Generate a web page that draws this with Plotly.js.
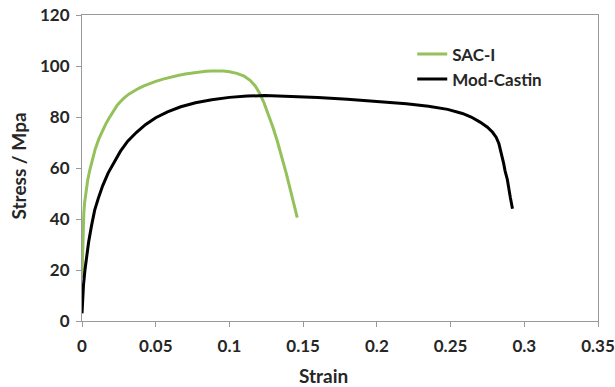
<!DOCTYPE html>
<html>
<head>
<meta charset="utf-8">
<script src="https://cdn.plot.ly/plotly-3.0.1.min.js"></script>
<style>
  html, body { margin: 0; padding: 0; background: #fff; }
  #chart { width: 615px; height: 387px; }
</style>
</head>
<body>
<div id="chart"></div>
<script>
// Tensile stress-strain curves for two solder alloys
const sacStrain = [0, 0.0003, 0.0007, 0.0012, 0.0018, 0.0027, 0.0038, 0.0052, 0.007, 0.009, 0.0115,
  0.013, 0.0145, 0.016, 0.018, 0.02, 0.022, 0.0237, 0.0255, 0.0272, 0.029, 0.032, 0.035, 0.0385,
  0.042, 0.046, 0.05, 0.055, 0.06, 0.065, 0.07, 0.075, 0.08, 0.084, 0.088, 0.092, 0.096,
  0.1, 0.105, 0.11, 0.114, 0.1175, 0.1205, 0.1235, 0.1265, 0.1295, 0.1325, 0.1355, 0.1385,
  0.1415, 0.1445, 0.146];
const sacStress = [17, 27, 36, 42, 46.5, 51, 55, 59, 63.5, 67.5, 71.5,
  73.5, 75.4, 77.1, 79.2, 81.2, 83.05, 84.45, 85.7, 86.75, 87.7, 89.05, 90.15, 91.25,
  92.2, 93.15, 93.95, 94.85, 95.65, 96.3, 96.85, 97.3, 97.65, 97.9, 98.05, 98.1, 98.0,
  97.75, 97.1, 96, 94.4, 92.2, 89.3, 85.5, 81, 76, 70.5, 64.5, 58,
  51, 44, 40.5];

const castinStrain = [0, 0.0005, 0.001, 0.002, 0.003, 0.0045, 0.0065, 0.0086, 0.011, 0.014, 0.0177,
  0.022, 0.026, 0.031, 0.037, 0.043, 0.05, 0.058, 0.067, 0.077, 0.088, 0.1, 0.112, 0.124,
  0.14, 0.16, 0.18, 0.2, 0.22, 0.235, 0.248, 0.258, 0.264, 0.27, 0.275, 0.2785, 0.281,
  0.2828, 0.284, 0.285, 0.286, 0.287, 0.2885, 0.2905, 0.292];
const castinStress = [3, 9, 14, 20, 25, 31, 37.5, 43.5, 48, 53, 58,
  62.5, 66.5, 70.5, 74, 77, 79.7, 82, 84, 85.6, 86.8, 87.7, 88.2, 88.4,
  88.1, 87.6, 87, 86.2, 85.2, 84.2, 83, 81.4, 80, 78, 76, 74, 72,
  69.5, 67, 64.5, 61.8, 58.8, 55.5, 48.5, 44];

const seriesNames = ['SAC-I', 'Mod-Castin'];
const xTicks = [0, 0.05, 0.1, 0.15, 0.2, 0.25, 0.3, 0.35];
const xTickText = ['0', '0.05', '0.1', '0.15', '0.2', '0.25', '0.3', '0.35'];
const yTicks = [0, 20, 40, 60, 80, 100, 120];

const FONT = 'Lato, "Open Sans", sans-serif';
const AXIS_GREY = '#9a9a9a';
const TEXT = '#262626';

const traces = [
  {
    x: sacStrain, y: sacStress, name: seriesNames[0], type: 'scatter', mode: 'lines',
    line: { color: '#94c159', width: 3, shape: 'linear' }
  },
  {
    x: castinStrain, y: castinStress, name: seriesNames[1], type: 'scatter', mode: 'lines',
    line: { color: '#000000', width: 3, shape: 'linear' }
  }
];

const layout = {
  width: 615, height: 387,
  margin: { l: 82, r: 17, t: 15, b: 66 },
  paper_bgcolor: '#ffffff', plot_bgcolor: '#ffffff',
  font: { family: FONT, size: 17, color: TEXT, weight: 'bold' },
  showlegend: true,
  legend: {
    x: 0.64, y: 0.93, xanchor: 'left', yanchor: 'top',
    bgcolor: 'rgba(0,0,0,0)', borderwidth: 0,
    font: { family: FONT, size: 17, color: TEXT, weight: 'bold' },
    itemwidth: 30, tracegroupgap: 0
  },
  xaxis: {
    range: [0, 0.35], tickvals: xTicks, ticktext: xTickText,
    showgrid: false, zeroline: false,
    showline: true, linecolor: AXIS_GREY, linewidth: 1, mirror: true,
    ticks: 'outside', ticklen: 5, tickcolor: AXIS_GREY, tickwidth: 1,
    ticklabelstandoff: 5,
    tickfont: { family: FONT, size: 17, color: TEXT, weight: 'bold' },
    fixedrange: true
  },
  yaxis: {
    range: [0, 120], tickvals: yTicks,
    showgrid: false, zeroline: false,
    showline: true, linecolor: AXIS_GREY, linewidth: 1, mirror: true,
    ticks: 'outside', ticklen: 5, tickcolor: AXIS_GREY, tickwidth: 1,
    ticklabelstandoff: 3,
    tickfont: { family: FONT, size: 17, color: TEXT, weight: 'bold' },
    fixedrange: true
  },
  annotations: [
    {
      text: 'Strain', xref: 'paper', yref: 'paper',
      x: (323.5 - 82) / 516, y: (387 - 66 - 375) / 306,
      xanchor: 'center', yanchor: 'middle', showarrow: false,
      font: { family: FONT, size: 19, color: TEXT, weight: 'bold' }
    },
    {
      text: 'Stress / Mpa', xref: 'paper', yref: 'paper',
      x: (18 - 82) / 516, y: (321 - 166.5) / 306, textangle: -90,
      xanchor: 'center', yanchor: 'middle', showarrow: false,
      font: { family: FONT, size: 19, color: TEXT, weight: 'bold' }
    }
  ]
};

Plotly.newPlot('chart', traces, layout, { staticPlot: true, displayModeBar: false });
</script>
</body>
</html>
